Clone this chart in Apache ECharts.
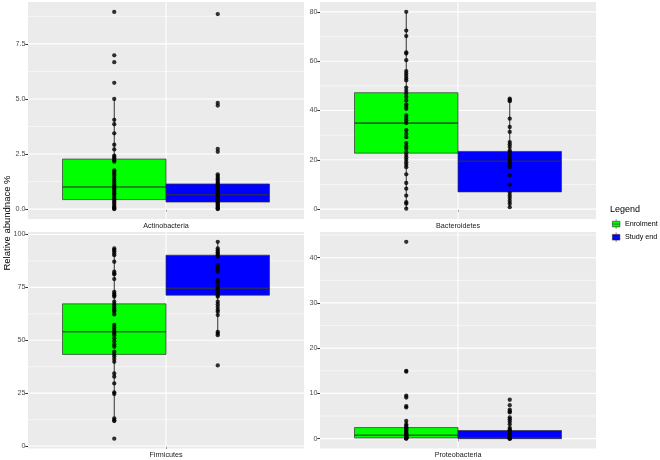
<!DOCTYPE html>
<html><head><meta charset="utf-8">
<script src="https://cdn.jsdelivr.net/npm/echarts@6/dist/echarts.min.js"></script>
<style>html,body{margin:0;padding:0;background:#fff}#c{width:660px;height:460px}</style>
</head><body><div id="c"></div>
<script>
// ---- categories ----
const phyla = ['Actinobacteria', 'Bacteroidetes', 'Firmicutes', 'Proteobacteria'];
const groups = ['Enrolment', 'Study end'];

// ---- individual observations (relative abundance %) ----
const actinoEnrol = [8.95, 6.98, 6.67, 5.73, 5.0, 4.05, 3.85, 3.44, 2.92, 2.71, 2.42, 2.36, 2.3, 2.22, 2.15, 1.76, 1.68, 1.6, 1.52, 1.42, 1.33, 1.25, 1.15, 1.08, 1.0, 0.94, 0.88, 0.8, 0.72, 0.65, 0.55, 0.47, 0.42, 0.35, 0.28, 0.2, 0.12, 0.06, 0.02, 0.0];
const actinoEnd = [8.85, 4.82, 4.7, 2.73, 2.6, 1.58, 1.5, 1.42, 1.35, 1.28, 1.2, 1.14, 1.08, 1.0, 0.95, 0.88, 0.82, 0.76, 0.7, 0.65, 0.6, 0.55, 0.5, 0.45, 0.4, 0.35, 0.3, 0.25, 0.2, 0.15, 0.1, 0.05, 0.02, 0.0];
const bacteroEnrol = [80, 72.4, 70.2, 63.6, 63.1, 60.4, 56, 55, 54, 53, 52.2, 49.3, 48, 46.8, 45.5, 44.1, 42.5, 41.6, 40.7, 38, 37, 36, 34.9, 32, 30.5, 29.2, 26.8, 25.5, 24.5, 23.1, 22, 21, 20, 19, 18, 17, 14.1, 10.6, 8.3, 5.5, 2.8, 2.2, 0.2];
const bacteroEnd = [44.8, 44.3, 43.8, 36.7, 33.3, 31.3, 27.2, 26.3, 25.2, 23.8, 23, 22, 21, 20.2, 19.4, 18.5, 17.8, 17, 13.7, 9.9, 6.6, 5.5, 4.5, 3.3, 2.2, 0.8];
const firmiEnrol = [93.4, 92.7, 92.1, 91, 90.2, 87.1, 82.4, 81.6, 81.1, 78.9, 72.9, 72, 71.3, 70.6, 68.2, 67, 66, 65, 64.2, 63.5, 62.2, 57.2, 56, 55, 54, 53.2, 52.4, 50.9, 49.5, 48, 46.9, 44.6, 43.5, 42.4, 41.1, 39.8, 34.3, 32.8, 29.6, 25.4, 24.6, 13.1, 12.2, 11.8, 3.5];
const firmiEnd = [96.5, 93.4, 92.5, 91.6, 90.9, 90.2, 89.4, 85.5, 84.5, 83.4, 82.4, 78.4, 77.6, 76.9, 75.3, 74.5, 73.8, 73, 72.2, 71.3, 70.6, 68.2, 67, 65.7, 64.4, 63.5, 61.9, 54, 53.2, 52.4, 38.1];
const proteoEnrol = [43.5, 15.0, 14.8, 9.5, 9.1, 7.2, 6.9, 3.9, 3.2, 2.8, 2.5, 2.3, 2.0, 1.8, 1.5, 1.3, 1.1, 0.95, 0.8, 0.7, 0.6, 0.5, 0.4, 0.3, 0.2, 0.15, 0.1, 0.05, 0.0];
const proteoEnd = [8.6, 7.4, 6.4, 6.0, 5.8, 4.7, 4.3, 3.8, 3.2, 2.4, 2.0, 1.8, 1.5, 1.2, 1.0, 0.8, 0.6, 0.45, 0.3, 0.2, 0.15, 0.1, 0.05, 0.0, 0.0];

// ---- box statistics: [lower whisker, Q1, median, Q3, upper whisker] ----
const boxActinoEnrol = [0, 0.43, 1.0, 2.27, 5.0];
const boxActinoEnd = [0, 0.32, 0.65, 1.14, 1.58];
const boxBacteroEnrol = [0.2, 22.7, 34.9, 47.2, 80];
const boxBacteroEnd = [0.8, 7.0, 19.4, 23.4, 44.8];
const boxFirmiEnrol = [11.8, 43.3, 54.0, 67.2, 93.4];
const boxFirmiEnd = [52.4, 71.3, 74.5, 90.2, 96.5];
const boxProteoEnrol = [0, 0.15, 0.75, 2.45, 3.9];
const boxProteoEnd = [0, 0.0, 0.2, 1.8, 4.3];

// ---- axis limits and tick labels ----
const limActino = [-0.45, 9.4];
const limBactero = [-4, 84];
const limFirmi = [-1.15, 101.15];
const limProteo = [-2.175, 45.675];
const ticksActino = [0, 2.5, 5, 7.5];
const ticksBactero = [0, 20, 40, 60, 80];
const ticksFirmi = [0, 25, 50, 75, 100];
const ticksProteo = [0, 10, 20, 30, 40];
const minorActino = [1.25, 3.75, 6.25, 8.75];
const minorBactero = [10, 30, 50, 70];
const minorFirmi = [12.5, 37.5, 62.5, 87.5];
const minorProteo = [5, 15, 25, 35, 45];

const panels = [
  {pts: [actinoEnrol, actinoEnd], box: [boxActinoEnrol, boxActinoEnd], lim: limActino, ticks: ticksActino, minor: minorActino, dec: 1},
  {pts: [bacteroEnrol, bacteroEnd], box: [boxBacteroEnrol, boxBacteroEnd], lim: limBactero, ticks: ticksBactero, minor: minorBactero, dec: 0},
  {pts: [firmiEnrol, firmiEnd], box: [boxFirmiEnrol, boxFirmiEnd], lim: limFirmi, ticks: ticksFirmi, minor: minorFirmi, dec: 0},
  {pts: [proteoEnrol, proteoEnd], box: [boxProteoEnrol, boxProteoEnd], lim: limProteo, ticks: ticksProteo, minor: minorProteo, dec: 0}
];

const FONT = "'Liberation Sans', Arial, Helvetica, sans-serif";
const gridPos = [{left: 28, top: 2}, {left: 320, top: 2}, {left: 28, top: 232}, {left: 320, top: 232}];
const PW = 276, PH = 217;
const fills = ['#00FF00', '#0000FF'];
const XMIN = 0.4, XMAX = 1.6, DODGE = 0.225, HALF = 0.225;

const grids = [], xAxes = [], yAxes = [], series = [];
panels.forEach((p, i) => {
  grids.push({left: gridPos[i].left, top: gridPos[i].top, width: PW, height: PH,
    show: true, backgroundColor: '#EBEBEB', borderWidth: 0, containLabel: false});
  xAxes.push({gridIndex: i, type: 'value', min: XMIN, max: XMAX,
    name: phyla[i], nameLocation: 'middle', nameGap: 3.5,
    nameTextStyle: {fontSize: 7.2, color: '#1a1a1a', fontFamily: FONT, verticalAlign: 'top'},
    axisLine: {show: false}, splitLine: {show: false},
    axisTick: {show: true, customValues: [1], length: 2.7, lineStyle: {color: '#333', width: 1}},
    axisLabel: {show: false, customValues: [1]}});
  yAxes.push({gridIndex: i, type: 'value', min: p.lim[0], max: p.lim[1],
    axisLine: {show: false}, splitLine: {show: false},
    axisTick: {show: true, customValues: p.ticks, length: 2.7, lineStyle: {color: '#333', width: 1}},
    axisLabel: {customValues: p.ticks, fontSize: 7.2, color: '#4d4d4d', fontFamily: FONT, margin: 2.5,
      formatter: v => Number(v).toFixed(p.dec)}});

  // panel grid lines (white), major / minor / vertical
  const glData = p.ticks.map(v => [1, v, 1]).concat(p.minor.map(v => [1, v, 0]));
  glData.push([1, 0, 2]);
  series.push({type: 'custom', xAxisIndex: i, yAxisIndex: i, silent: true, z: 1,
    encode: {x: 0, y: 1}, data: glData,
    renderItem: (params, api) => {
      const kind = api.value(2);
      let a, b;
      if (kind === 2) { a = api.coord([1, p.lim[0]]); b = api.coord([1, p.lim[1]]); }
      else { const v = api.value(1); a = api.coord([XMIN, v]); b = api.coord([XMAX, v]); }
      return {type: 'line', shape: {x1: a[0], y1: a[1], x2: b[0], y2: b[1]},
        style: {stroke: '#FFFFFF', lineWidth: kind === 0 ? 0.55 : 1.1}};
    }});

  groups.forEach((g, k) => {
    const xc = 1 + (k === 0 ? -DODGE : DODGE);
    const b = p.box[k];
    series.push({type: 'custom', name: g, xAxisIndex: i, yAxisIndex: i, z: 2,
      itemStyle: {color: fills[k], borderColor: 'rgba(51,51,51,0.7)', borderWidth: 0.8},
      encode: {x: 0, y: [1, 2, 3, 4, 5]},
      data: [[xc, b[0], b[1], b[2], b[3], b[4]]],
      renderItem: (params, api) => {
        const x = api.value(0);
        const lo = api.coord([x, api.value(1)]), q1 = api.coord([x, api.value(2)]),
              md = api.coord([x, api.value(3)]), q3 = api.coord([x, api.value(4)]),
              hi = api.coord([x, api.value(5)]);
        const l = api.coord([x - HALF, api.value(3)])[0], r = api.coord([x + HALF, api.value(3)])[0];
        return {type: 'group', children: [
          {type: 'line', shape: {x1: lo[0], y1: lo[1], x2: q1[0], y2: q1[1]}, style: {stroke: '#333', lineWidth: 1}},
          {type: 'line', shape: {x1: q3[0], y1: q3[1], x2: hi[0], y2: hi[1]}, style: {stroke: '#333', lineWidth: 1}},
          {type: 'rect', shape: {x: l, y: q3[1], width: r - l, height: q1[1] - q3[1]},
            style: {fill: fills[k], stroke: 'rgba(51,51,51,0.7)', lineWidth: 1}},
          {type: 'line', shape: {x1: l, y1: md[1], x2: r, y2: md[1]}, style: {stroke: 'rgba(51,51,51,0.75)', lineWidth: 1.6}}
        ]};
      }});
    series.push({type: 'scatter', name: 'pts' + i + k, xAxisIndex: i, yAxisIndex: i, z: 3,
      symbol: 'circle', symbolSize: 4.3, itemStyle: {color: '#000'}, silent: true,
      clip: false,
      data: p.pts[k].map(v => [xc, v])});
  });
});

const keyIcon = 'path://M4,0V2M0,2H8V8H0ZM0,5H8M4,8V10';
const chart = echarts.init(document.getElementById('c'), null, {renderer: 'canvas'});
chart.setOption({
  animation: false,
  backgroundColor: '#FFFFFF',
  textStyle: {fontFamily: FONT},
  title: {text: 'Legend', left: 610, top: 205, padding: 0,
    textStyle: {fontSize: 9, fontWeight: 'normal', color: '#000', fontFamily: FONT}},
  legend: {orient: 'vertical', left: 612, top: 219, padding: 0, itemGap: 3,
    itemWidth: 7.5, itemHeight: 10, selectedMode: false,
    data: groups.map(g => ({name: g, icon: keyIcon})),
    itemStyle: {borderColor: 'rgba(51,51,51,0.75)', borderWidth: 0.8},
    textStyle: {fontSize: 7.2, color: '#000', fontFamily: FONT}},
  graphic: [{type: 'text', x: 7, y: 223, rotation: Math.PI / 2,
    style: {text: 'Relative abundnace %', font: '9.5px ' + FONT, fill: '#000', align: 'center', verticalAlign: 'middle'}}],
  grid: grids, xAxis: xAxes, yAxis: yAxes, series: series
});
</script></body></html>
